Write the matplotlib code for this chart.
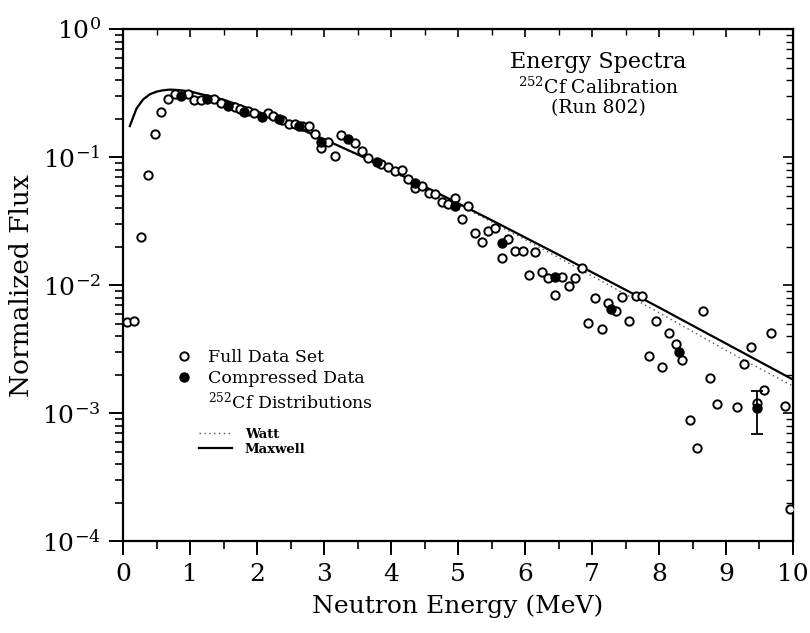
import matplotlib
matplotlib.use("Agg")
import matplotlib.pyplot as plt
from matplotlib.lines import Line2D
from matplotlib.ticker import LogLocator, MultipleLocator, NullFormatter

plt.rcParams['font.family'] = ['DejaVu Serif']
plt.rcParams['mathtext.fontset'] = 'dejavuserif'

# full data set (open circles)
full_e = [0.055, 0.164, 0.264, 0.373, 0.478, 0.567, 0.672, 0.776, 0.975, 1.065,
          1.164, 1.363, 1.463, 1.672, 1.746, 1.871, 1.96, 2.17, 2.24, 2.37,
          2.47, 2.57, 2.67, 2.77, 2.87, 2.955, 3.064, 3.164, 3.254, 3.463,
          3.562, 3.65, 3.85, 3.96, 4.06, 4.16, 4.26, 4.36, 4.46, 4.567,
          4.66, 4.756, 4.855, 4.955, 5.055, 5.15, 5.25, 5.35, 5.45, 5.55,
          5.65, 5.75, 5.85, 5.97, 6.06, 6.15, 6.26, 6.35, 6.45, 6.55,
          6.65, 6.75, 6.85, 6.945, 7.04, 7.145, 7.24, 7.36, 7.45, 7.55,
          7.65, 7.75, 7.85, 7.95, 8.05, 8.15, 8.25, 8.35, 8.46, 8.56,
          8.66, 8.76, 8.86, 9.17, 9.27, 9.37, 9.47, 9.57, 9.67, 9.88, 9.955]
full_flux = [0.00517, 0.00523, 0.0236, 0.0725, 0.152, 0.225, 0.286, 0.311, 0.311, 0.279,
             0.279, 0.282, 0.267, 0.247, 0.236, 0.23, 0.223, 0.222, 0.21, 0.195,
             0.183, 0.18, 0.175, 0.176, 0.151, 0.117, 0.132, 0.102, 0.150, 0.128,
             0.111, 0.0977, 0.088, 0.084, 0.0778, 0.079, 0.067, 0.057, 0.0594, 0.0526,
             0.052, 0.0443, 0.0434, 0.048, 0.0328, 0.0414, 0.0254, 0.0218, 0.0264, 0.0282,
             0.0164, 0.0229, 0.0185, 0.0185, 0.012, 0.0182, 0.01257, 0.0114, 0.00835, 0.0116,
             0.0098, 0.01128, 0.0135, 0.00508, 0.00787, 0.00453, 0.0072, 0.00627, 0.0081, 0.00524,
             0.0082, 0.0082, 0.0028, 0.00526, 0.0023, 0.00424, 0.00344, 0.0026, 0.00088, 0.00053,
             0.0063, 0.00189, 0.00119, 0.00112, 0.00241, 0.0033, 0.00121, 0.00153, 0.00424, 0.00114, 0.00018]

# compressed data (filled circles)
comp_e = [0.86, 1.25, 1.56, 1.81, 2.07, 2.32, 2.63, 2.955, 3.35, 3.79,
          4.35, 4.955, 5.65, 6.45, 7.29, 8.30, 9.46]
comp_flux = [0.30, 0.287, 0.252, 0.226, 0.206, 0.198, 0.176, 0.132, 0.138, 0.091,
             0.0623, 0.0414, 0.0214, 0.0116, 0.0065, 0.00298, 0.0011]
# only the last compressed point shows an error bar
err_e = [9.46]
err_flux = [0.0011]
err_lo = [0.00041]
err_hi = [0.00039]

# 252Cf distributions
curve_e = [0.1, 0.2, 0.3, 0.4, 0.5, 0.6, 0.7, 0.8, 0.9, 1.0, 1.5, 2.0, 2.5, 3.0, 3.5,
           4.0, 4.5, 5.0, 5.5, 6.0, 6.5, 7.0, 7.5, 8.0, 8.5, 9.0, 9.5, 10.0]
maxwell = [0.175, 0.24, 0.283, 0.31, 0.325, 0.333, 0.337, 0.335, 0.331, 0.326, 0.281,
           0.228, 0.179, 0.138, 0.105, 0.0789, 0.0589, 0.0436, 0.0322, 0.0236, 0.0173,
           0.0126, 0.0092, 0.0067, 0.00484, 0.0035, 0.00253, 0.00183]
watt = [0.173, 0.238, 0.281, 0.307, 0.322, 0.330, 0.334, 0.332, 0.328, 0.323, 0.279,
        0.227, 0.178, 0.137, 0.104, 0.0778, 0.0578, 0.0427, 0.0312, 0.0227, 0.0164,
        0.0118, 0.0085, 0.0061, 0.00435, 0.0031, 0.00224, 0.00163]

x_ticks = list(range(0, 11))

fig = plt.figure(figsize=(8.1, 6.33), dpi=100)
ax = fig.add_axes([0.152, 0.145, 0.827, 0.809])

ax.plot(curve_e, watt, color='#555555', linestyle=(0, (1, 2.5)), linewidth=1.0, zorder=2)
ax.plot(curve_e, maxwell, color='black', linewidth=1.6, zorder=3)
ax.plot(full_e, full_flux, linestyle='none', marker='o', markersize=6,
        markerfacecolor='white', markeredgecolor='black', markeredgewidth=1.4, zorder=4)
ax.plot(comp_e, comp_flux, linestyle='none', marker='o', markersize=6.5,
        color='black', zorder=5)
ax.errorbar(err_e, err_flux, yerr=[err_lo, err_hi], fmt='none', ecolor='black',
            elinewidth=1.3, capsize=4, capthick=1.3, zorder=5)

ax.set_yscale('log')
ax.set_xlim(0, 10)
ax.set_ylim(1e-4, 1)
ax.set_xticks(x_ticks)
ax.xaxis.set_minor_locator(MultipleLocator(0.5))
ax.yaxis.set_major_locator(LogLocator(base=10, numticks=10))
ax.yaxis.set_minor_locator(LogLocator(base=10, subs=range(2, 10), numticks=20))
ax.yaxis.set_minor_formatter(NullFormatter())

for sp in ax.spines.values():
    sp.set_linewidth(1.6)
ax.tick_params(which='major', direction='out', length=10, width=1.4, labelsize=18, pad=6)
ax.tick_params(which='minor', direction='out', length=6, width=1.2)

# top and right ticks point inward
secx = ax.secondary_xaxis('top')
secx.set_xticks(x_ticks)
secx.xaxis.set_minor_locator(MultipleLocator(0.5))
secx.tick_params(which='major', direction='in', length=6, width=1.2, labeltop=False)
secx.tick_params(which='minor', direction='in', length=4, width=1.0)
secy = ax.secondary_yaxis('right')
secy.yaxis.set_major_locator(LogLocator(base=10, numticks=10))
secy.yaxis.set_minor_locator(LogLocator(base=10, subs=range(2, 10), numticks=20))
secy.yaxis.set_minor_formatter(NullFormatter())
secy.tick_params(which='major', direction='in', length=7, width=1.2, labelright=False)
secy.tick_params(which='minor', direction='in', length=5, width=1.0)

ax.set_xlabel('Neutron Energy (MeV)', fontsize=18, labelpad=6)
ax.set_ylabel('Normalized Flux', fontsize=19, labelpad=6)

ax.text(0.709, 0.936, 'Energy Spectra', transform=ax.transAxes, fontsize=16,
        ha='center', va='center')
ax.text(0.709, 0.887, r'$^{252}$Cf Calibration', transform=ax.transAxes, fontsize=13.5,
        ha='center', va='center')
ax.text(0.709, 0.845, '(Run 802)', transform=ax.transAxes, fontsize=13.5,
        ha='center', va='center')

h_full = Line2D([], [], linestyle='none', marker='o', markersize=6,
                markerfacecolor='white', markeredgecolor='black', markeredgewidth=1.4)
h_comp = Line2D([], [], linestyle='none', marker='o', markersize=6.5, color='black')
h_blank = Line2D([], [], linestyle='none')
leg1 = ax.legend([h_full, h_comp, h_blank],
                 ['Full Data Set', 'Compressed Data', r'$^{252}$Cf Distributions'],
                 loc='upper left', bbox_to_anchor=(0.065, 0.388), frameon=False,
                 fontsize=12.5, handlelength=1.2, handletextpad=0.8,
                 labelspacing=0.2, borderaxespad=0)
ax.add_artist(leg1)

h_watt = Line2D([], [], color='#555555', linestyle=(0, (1, 2.5)), linewidth=1.0)
h_max = Line2D([], [], color='black', linewidth=1.6)
ax.legend([h_watt, h_max], ['Watt', 'Maxwell'], loc='upper left',
          bbox_to_anchor=(0.105, 0.232), frameon=False,
          prop={'size': 9.5, 'weight': 'bold'}, handlelength=2.5,
          handletextpad=1.0, labelspacing=0.15, borderaxespad=0)

fig.savefig('out.png', dpi=100)
